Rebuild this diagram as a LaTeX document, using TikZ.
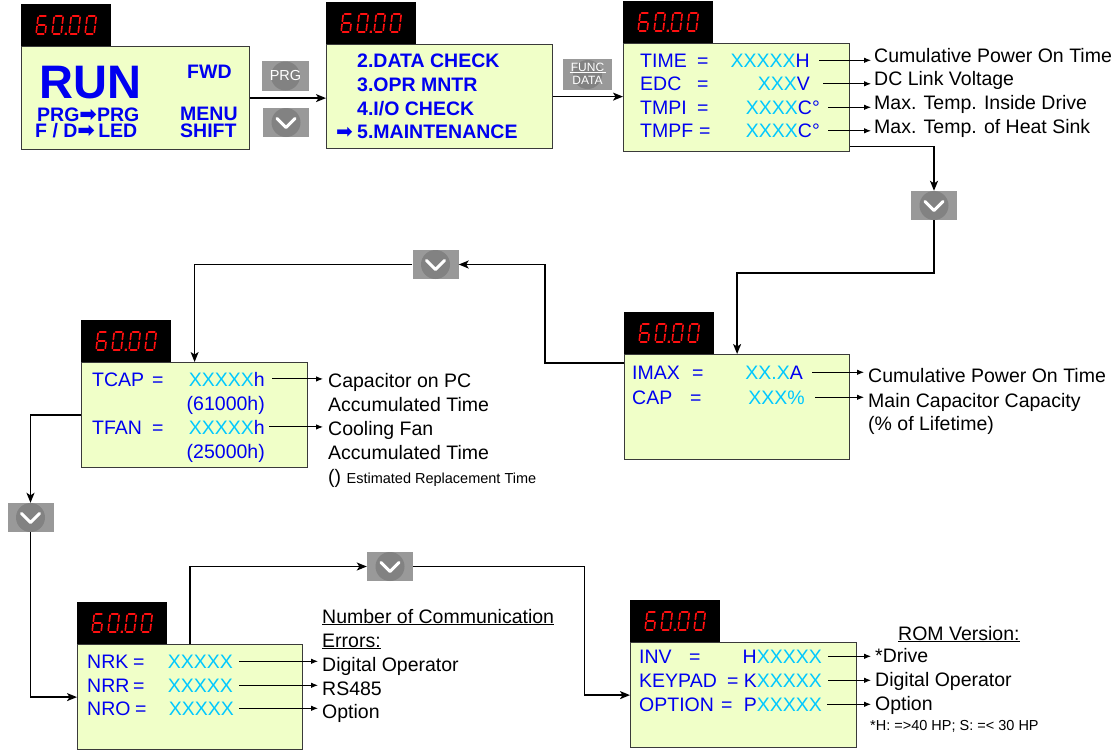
\documentclass[tikz,border=0pt]{standalone}
\usepackage{fontspec}
\setmainfont{Liberation Sans}
\newfontfamily\symf{DejaVu Sans}
\usetikzlibrary{arrows.meta}
\definecolor{boxfill}{HTML}{F0FFC8}
\definecolor{bluex}{HTML}{0000F0}
\definecolor{cyanx}{HTML}{00C8FF}
\definecolor{btngray}{HTML}{999999}
\definecolor{btncirc}{HTML}{828282}
\definecolor{segred}{HTML}{FF1010}
\definecolor{edge}{HTML}{3A3A3A}
\newcommand\fA{\fontsize{19.5pt}{22pt}\selectfont}
\newcommand\fB{\fontsize{14.5pt}{16pt}\selectfont}
\newcommand\cy[1]{\textcolor{cyanx}{#1}}
\newcommand\barr{\smash{\fontsize{21pt}{22pt}\symf ➡}}
\newcommand\sgA[1]{\draw[seg] (#1+1.4,0) -- (#1+7.6,0);}
\newcommand\sgB[1]{\draw[seg] (#1+9,1.4) -- (#1+9,7.6);}
\newcommand\sgC[1]{\draw[seg] (#1+9,10.4) -- (#1+9,16.6);}
\newcommand\sgD[1]{\draw[seg] (#1+1.4,18) -- (#1+7.6,18);}
\newcommand\sgE[1]{\draw[seg] (#1,10.4) -- (#1,16.6);}
\newcommand\sgF[1]{\draw[seg] (#1,1.4) -- (#1,7.6);}
\newcommand\sgG[1]{\draw[seg] (#1+1.4,9) -- (#1+7.6,9);}
\newcommand\dsix[1]{\sgA{#1}\sgC{#1}\sgD{#1}\sgE{#1}\sgF{#1}\sgG{#1}}
\newcommand\dzero[1]{\sgA{#1}\sgB{#1}\sgC{#1}\sgD{#1}\sgE{#1}\sgF{#1}}
\newcommand\sixty[1]{\begin{scope}[shift={(#1)},xslant=0.12,shift={(-29,-9)}]
  \dsix{0}\dzero{16}\fill[segred] (28.6,16.9) rectangle (30.8,19.1);\dzero{33}\dzero{49}\end{scope}}
\begin{document}
\begin{tikzpicture}[x=1pt,y=-1pt,
  seg/.style={draw=segred, line width=1.6pt, line cap=round},
  gbox/.style={draw=edge, line width=1.2pt, fill=boxfill, anchor=north west, inner sep=0},
  dispbox/.style={fill=black, minimum width=90pt, minimum height=42pt, anchor=south west, inner sep=0},
  boxtxt/.style={anchor=base west, inner sep=0, font=\fA, text=bluex},
  boxbold/.style={anchor=base west, inner sep=0, font=\fA\bfseries, text=bluex},
  valtxt/.style={anchor=base east, inner sep=0, font=\fA, text=bluex},
  labtxt/.style={anchor=base west, inner sep=0, font=\fA, text=black},
  conn/.style={draw=black, line width=1.4pt, -{Stealth[length=10pt,width=8pt,inset=2.5pt]}},
  lab/.style={draw=black, line width=0.9pt, -{Latex[length=7pt,width=5.5pt]}},
  btn/.style={rectangle, fill=btngray, inner sep=0, minimum width=46pt, minimum height=29pt,
    path picture={\fill[btncirc] (path picture bounding box.center) circle (14.5pt);}},
  downbtn/.style={rectangle, fill=btngray, inner sep=0, minimum width=46pt, minimum height=29pt,
    path picture={\fill[btncirc] (path picture bounding box.center) circle (14.5pt);
      \draw[white, line width=3pt, line cap=round, line join=round]
        ([shift={(-9pt,4pt)}]path picture bounding box.center) --
        ([shift={(0pt,-5pt)}]path picture bounding box.center) --
        ([shift={(9pt,4pt)}]path picture bounding box.center);}}
]
\useasboundingbox (0,0) rectangle (1115,750);

% ---------- boxes ----------
\node[gbox, minimum width=228pt, minimum height=103pt] (b1) at (21,46) {};
\node[gbox, minimum width=226pt, minimum height=104pt] (b2) at (326,44) {};
\node[gbox, minimum width=226pt, minimum height=108pt] (b3) at (623,43) {};
\node[gbox, minimum width=225pt, minimum height=105pt] (b4) at (624,354) {};
\node[gbox, minimum width=226pt, minimum height=105pt] (b5) at (81,362) {};
\node[gbox, minimum width=225pt, minimum height=105pt] (b6) at (77,644) {};
\node[gbox, minimum width=226pt, minimum height=105pt] (b7) at (630,642) {};
\foreach \i in {1,...,7} {\node[dispbox] (d\i) at (b\i.north west) {}; \sixty{d\i.center}}

% ---------- buttons ----------
\node[btn, minimum width=47pt, minimum height=30pt, text=white, font=\fontsize{14.5pt}{16pt}\selectfont] (k1) at (285.5,76) {PRG};
\node[downbtn] (k2) at (286,122.5) {};
\node[btn, minimum width=49pt, minimum height=31pt] (fd) at (587.5,74.5) {};
\node[anchor=base, inner sep=0, text=white, font=\fontsize{12pt}{13pt}\selectfont] (fdt1) at ([yshift=3.5pt]fd.center) {FUNC};
\node[anchor=base, inner sep=0, text=white, font=\fontsize{12pt}{13pt}\selectfont] (fdt2) at ([yshift=-9.5pt]fd.center) {DATA};
\draw[white, line width=0.8pt] ([xshift=-18pt,yshift=2pt]fd.center) -- ([xshift=18pt,yshift=2pt]fd.center);
\node[downbtn] (k3) at (934,205.5) {};
\node[downbtn] (k4) at (435.5,264.5) {};
\node[downbtn] (k5) at (30.5,517.5) {};
\node[downbtn] (k6) at (390,566.5) {};

% ---------- connectors ----------
\draw[conn] (b1.east) -- (b2.west |- b1.east);
\draw[conn] (b2.east) -- (b3.west |- b2.east);
\draw[conn] ([yshift=6pt]b3.south east) -| (k3.north);
\draw[conn] (k3.south) |- ([yshift=81pt]b4.north) -- (b4.north);
\draw[conn] ([yshift=-9pt]b4.north west) -- ++(-79,0) |- (k4.east);
\draw[conn] (k4.west) -| (b5.north);
\draw[conn] (b5.west) -| (k5.north);
\draw[conn] (k5.south) |- (b6.west);
\draw[conn] (b6.north) |- (k6.west);
\draw[conn] (k6.east) -- ++(171,0) |- (b7.west);

% ---------- box 1 ----------
\node[boxbold, font=\fontsize{47pt}{50pt}\selectfont\bfseries] (run) at (39,98) {RUN};
\node[boxbold] (fwd) at (187,78) {FWD};
\node[boxbold] (pp) at (37,121) {PRG\barr PRG};
\node[boxbold] (fdl) at (35,137) {F / D\barr\,LED};
\node[boxbold] (menu) at (180,120) {MENU};
\node[boxbold] (shf) at (180,137) {SHIFT};

% ---------- box 2 ----------
\node[boxbold] (m2) at (357,67) {2.DATA CHECK};
\node[boxbold] (m3) at (357,91) {3.OPR MNTR};
\node[boxbold] (m4) at (357,115) {4.I/O CHECK};
\node[boxbold] (m5) at (357,138) {5.MAINTENANCE};
\node[anchor=base east, inner sep=0, text=bluex, font=\fontsize{20pt}{22pt}\symf] (m5a) at (353,138) {➡};

% ---------- box 3 ----------
\node[boxtxt] (c3n1) at (640,67) {TIME};
\node[boxtxt] (c3e1) at (697,67) {=};
\node[valtxt] (c3v1) at (810,67) {\cy{XXXXX}H};
\node[boxtxt] (c3n2) at (640,90.5) {EDC};
\node[boxtxt] (c3e2) at (697,90.5) {=};
\node[valtxt] (c3v2) at (810,90.5) {\cy{XXX}V};
\node[boxtxt] (c3n3) at (640,114) {TMPI};
\node[boxtxt] (c3e3) at (697,114) {=};
\node[valtxt] (c3v3) at (820,114) {\cy{XXXX}C°};
\node[boxtxt] (c3n4) at (640,137.5) {TMPF};
\node[boxtxt] (c3e4) at (699,137.5) {=};
\node[valtxt] (c3v4) at (820,137.5) {\cy{XXXX}C°};
\node[labtxt] (c3l1) at (874,62) {Cumulative Power On Time};
\node[labtxt] (c3l2) at (874,85) {DC Link Voltage};
\node[labtxt] (c3l3) at (874,109) {Max. Temp. Inside Drive};
\node[labtxt] (c3l4) at (874,133) {Max. Temp. of Heat Sink};
\draw[lab] ([xshift=9pt]c3v1.east) -- ([xshift=-3pt]c3l1.west |- c3v1.east);
\draw[lab] ([xshift=13pt]c3v2.east) -- ([xshift=-3pt]c3l2.west |- c3v2.east);
\draw[lab] ([xshift=8pt]c3v3.east) -- ([xshift=-3pt]c3l3.west |- c3v3.east);
\draw[lab] ([xshift=8pt]c3v4.east) -- ([xshift=-3pt]c3l4.west |- c3v4.east);

% ---------- box 4 ----------
\node[boxtxt] (c4n1) at (632,379) {IMAX};
\node[boxtxt] (c4e1) at (692,379) {=};
\node[valtxt] (c4v1) at (803,379) {\cy{XX.X}A};
\node[boxtxt] (c4n2) at (632,404) {CAP};
\node[boxtxt] (c4e2) at (690,404) {=};
\node[valtxt] (c4v2) at (805,404) {\cy{XXX\%}};
\node[labtxt] (c4l1) at (868,382) {Cumulative Power On Time};
\node[labtxt] (c4l2) at (868,407) {Main Capacitor Capacity};
\node[labtxt] (c4l3) at (868,430) {(\% of Lifetime)};
\draw[lab] ([xshift=9pt]c4v1.east) -- ([xshift=-4pt]c4l1.west |- c4v1.east);
\draw[lab] ([xshift=10pt]c4v2.east) -- ([xshift=-4pt]c4l2.west |- c4v2.east);

% ---------- box 5 ----------
\node[boxtxt] (c5n1) at (92,386) {TCAP};
\node[boxtxt] (c5e1) at (152,386) {=};
\node[valtxt] (c5v1) at (265,386) {\cy{XXXXX}h};
\node[valtxt] (c5r1) at (265,410) {(61000h)};
\node[boxtxt] (c5n2) at (92,434) {TFAN};
\node[boxtxt] (c5e2) at (152,434) {=};
\node[valtxt] (c5v2) at (265,434) {\cy{XXXXX}h};
\node[valtxt] (c5r2) at (265,458) {(25000h)};
\node[labtxt] (c5l1) at (328,387) {Capacitor on PC};
\node[labtxt] (c5l2) at (328,411) {Accumulated Time};
\node[labtxt] (c5l3) at (328,435) {Cooling Fan};
\node[labtxt] (c5l4) at (328,459) {Accumulated Time};
\node[labtxt] (c5l5) at (328,483) {() {\fB Estimated Replacement Time}};
\draw[lab] ([xshift=7pt]c5v1.east) -- ([xshift=-5pt]c5l1.west |- c5v1.east);
\draw[lab] ([xshift=4pt]c5v2.east) -- ([xshift=-5pt]c5l3.west |- c5v2.east);

% ---------- box 6 ----------
\node[boxtxt] (c6n1) at (87,668) {NRK};
\node[boxtxt] (c6e1) at (133,668) {=};
\node[valtxt] (c6v1) at (233,668) {\cy{XXXXX}};
\node[boxtxt] (c6n2) at (87,692) {NRR};
\node[boxtxt] (c6e2) at (133,692) {=};
\node[valtxt] (c6v2) at (233,692) {\cy{XXXXX}};
\node[boxtxt] (c6n3) at (87,715) {NRO};
\node[boxtxt] (c6e3) at (135,715) {=};
\node[valtxt] (c6v3) at (234,715) {\cy{XXXXX}};
\node[labtxt] (c6h1) at (322,623) {\underline{Number of Communication}};
\node[labtxt] (c6h2) at (322,647) {\underline{Errors:}};
\node[labtxt] (c6l1) at (322,671) {Digital Operator};
\node[labtxt] (c6l2) at (322,695) {RS485};
\node[labtxt] (c6l3) at (322,718) {Option};
\draw[lab] ([xshift=6pt]c6v1.east) -- ([xshift=-4pt]c6l1.west |- c6v1.east);
\draw[lab] ([xshift=6pt]c6v2.east) -- ([xshift=-4pt]c6l2.west |- c6v2.east);
\draw[lab] ([xshift=5pt]c6v3.east) -- ([xshift=-4pt]c6l3.west |- c6v3.east);

% ---------- box 7 ----------
\node[boxtxt] (c7n1) at (639,663) {INV};
\node[boxtxt] (c7e1) at (689,663) {=};
\node[valtxt] (c7v1) at (822,663) {H\cy{XXXXX}};
\node[boxtxt] (c7n2) at (639,687) {KEYPAD};
\node[boxtxt] (c7e2) at (727,687) {=};
\node[valtxt] (c7v2) at (822,687) {K\cy{XXXXX}};
\node[boxtxt] (c7n3) at (639,711) {OPTION};
\node[boxtxt] (c7e3) at (721,711) {=};
\node[valtxt] (c7v3) at (822,711) {P\cy{XXXXX}};
\node[labtxt] (c7h) at (898,640) {\underline{ROM Version:}};
\node[labtxt] (c7l1) at (875,662) {*Drive};
\node[labtxt] (c7l2) at (875,686) {Digital Operator};
\node[labtxt] (c7l3) at (875,710) {Option};
\node[labtxt, font=\fB] (c7note) at (870,730) {*H: =>40 HP; S: =< 30 HP};
\draw[lab] ([xshift=6pt]c7v1.east) -- ([xshift=-4pt]c7l1.west |- c7v1.east);
\draw[lab] ([xshift=6pt]c7v2.east) -- ([xshift=-4pt]c7l2.west |- c7v2.east);
\draw[lab] ([xshift=5pt]c7v3.east) -- ([xshift=-4pt]c7l3.west |- c7v3.east);
\end{tikzpicture}
\end{document}
